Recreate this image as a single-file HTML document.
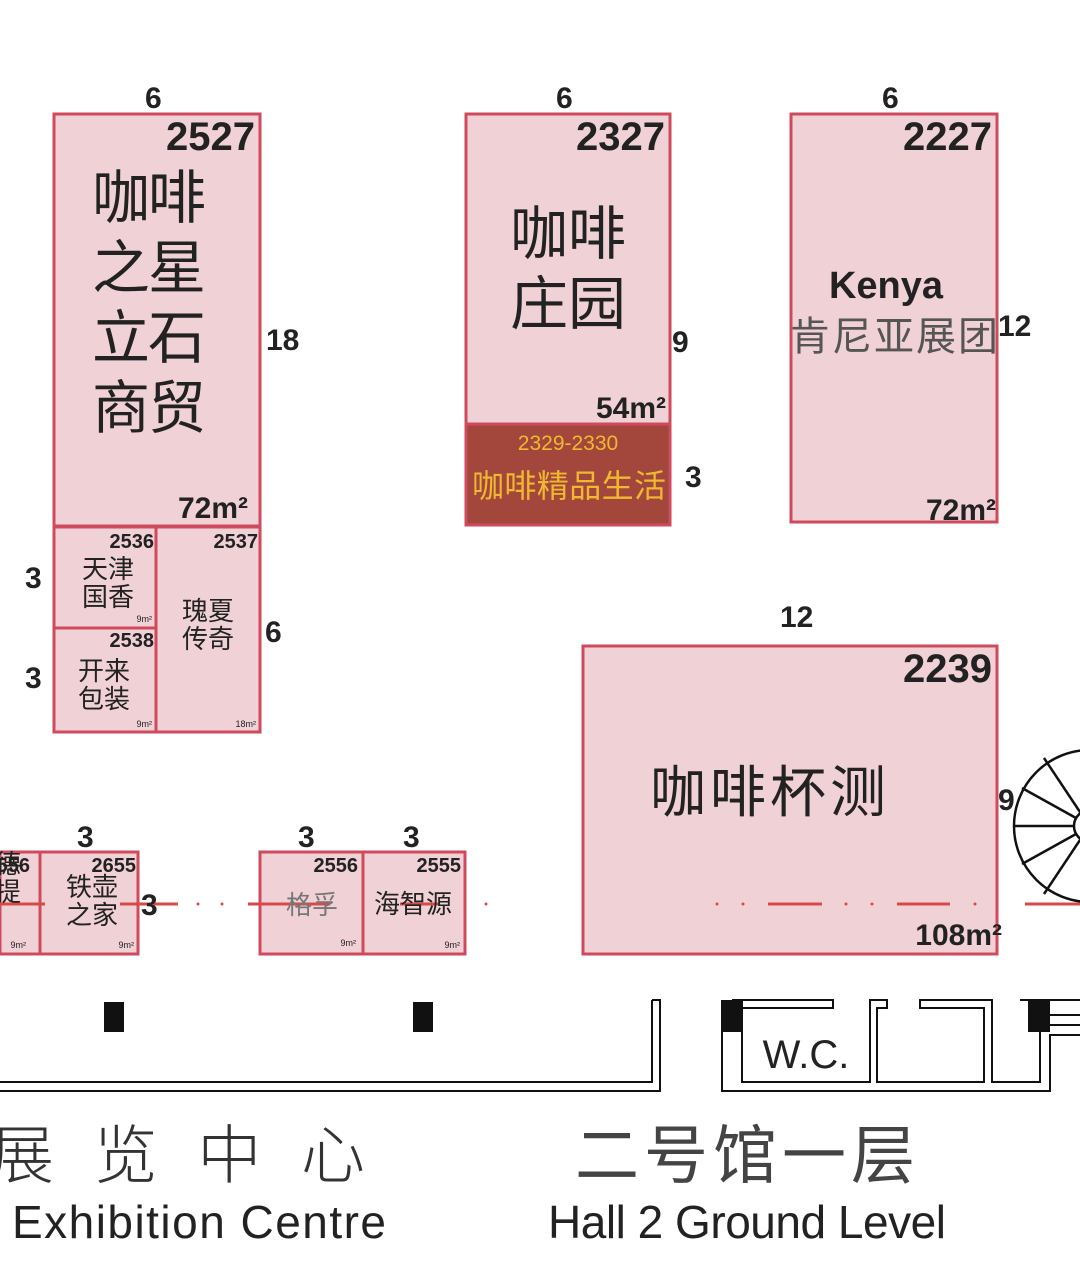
<!DOCTYPE html>
<html><head><meta charset="utf-8"><style>
html,body{margin:0;padding:0;background:#fff;}
svg{display:block;}
text{font-family:"Liberation Sans","Noto Sans CJK SC",sans-serif;fill:#222;}
.b{font-weight:bold;}
</style></head><body>
<svg width="1080" height="1276" viewBox="0 0 1080 1276" xmlns="http://www.w3.org/2000/svg">
<g fill="#f0d1d6" stroke="#d04a5e" stroke-width="3">
<rect x="54" y="114" width="206" height="412"/>
<rect x="54" y="527" width="102" height="101"/>
<rect x="54" y="628" width="102" height="104"/>
<rect x="156" y="527" width="104" height="205"/>
<rect x="466" y="114" width="204" height="310"/>
<rect x="791" y="114" width="206" height="408"/>
<rect x="583" y="646" width="414" height="308"/>
<rect x="0" y="852" width="40" height="102"/>
<rect x="40" y="852" width="98" height="102"/>
<rect x="260" y="852" width="103" height="102"/>
<rect x="363" y="852" width="102" height="102"/>
</g>
<rect x="466" y="424" width="204" height="101" fill="#a3473c" stroke="#d04a5e" stroke-width="3"/>
<g stroke="#d84a4a" stroke-width="3">
<line x1="0" y1="904" x2="45" y2="904"/><line x1="120" y1="904" x2="178" y2="904"/>
<line x1="248" y1="904" x2="330" y2="904"/><line x1="400" y1="904" x2="440" y2="904"/>
<line x1="768" y1="904" x2="822" y2="904"/><line x1="897" y1="904" x2="950" y2="904"/><line x1="1025" y1="904" x2="1080" y2="904"/>
</g>
<g fill="#d84a4a"><circle cx="198" cy="904" r="1.5"/><circle cx="222" cy="904" r="1.5"/><circle cx="486" cy="904" r="1.5"/><circle cx="717" cy="904" r="1.5"/><circle cx="743" cy="904" r="1.5"/><circle cx="846" cy="904" r="1.5"/><circle cx="872" cy="904" r="1.5"/><circle cx="975" cy="904" r="1.5"/></g>
<g class="b" font-size="40" text-anchor="end">
<text x="255" y="150" class="b">2527</text><text x="665" y="150" class="b">2327</text><text x="992" y="150" class="b">2227</text><text x="992" y="682" class="b">2239</text>
</g>
<g font-size="30" class="b">
<text x="145" y="108" class="b">6</text><text x="556" y="108" class="b">6</text><text x="882" y="108" class="b">6</text>
<text x="266" y="350" class="b">18</text><text x="672" y="352" class="b">9</text><text x="998" y="336" class="b">12</text>
<text x="685" y="487" class="b">3</text><text x="25" y="588" class="b">3</text><text x="25" y="688" class="b">3</text><text x="265" y="642" class="b">6</text>
<text x="780" y="627" class="b">12</text><text x="998" y="810" class="b">9</text>
<text x="77" y="847" class="b">3</text><text x="298" y="847" class="b">3</text><text x="403" y="847" class="b">3</text><text x="141" y="915" class="b">3</text>
</g>
<g font-size="30" class="b" text-anchor="end">
<text x="248" y="518" class="b">72m²</text><text x="666" y="418" class="b">54m²</text><text x="996" y="520" class="b">72m²</text><text x="1002" y="945" class="b">108m²</text>
</g>
<g font-size="20" class="b" text-anchor="end">
<text x="154" y="548" class="b">2536</text><text x="258" y="548" class="b">2537</text><text x="154" y="647" class="b">2538</text>
<text x="136" y="872" class="b">2655</text><text x="30" y="872" class="b">556</text><text x="358" y="872" class="b">2556</text><text x="461" y="872" class="b">2555</text>
</g>
<g font-size="9" text-anchor="end">
<text x="152" y="622">9m²</text><text x="152" y="727">9m²</text><text x="256" y="727">18m²</text>
<text x="26" y="948">9m²</text><text x="134" y="948">9m²</text><text x="356" y="946">9m²</text><text x="460" y="948">9m²</text>
</g>
<g font-size="58">
<text x="92" y="218" textLength="114">咖啡</text><text x="92" y="288" textLength="114">之星</text><text x="92" y="358" textLength="114">立石</text><text x="92" y="428" textLength="114">商贸</text>
<text x="510" y="254" textLength="116">咖啡</text><text x="510" y="324" textLength="116">庄园</text>
</g>
<text x="650" y="812" font-size="56" textLength="236">咖啡杯测</text>
<text x="886" y="298" font-size="38" text-anchor="middle" class="b">Kenya</text>
<text x="790" y="350" font-size="40" textLength="208" style="fill:#555">肯尼亚展团</text>
<text x="568" y="450" font-size="21" text-anchor="middle" style="fill:#f0b830">2329-2330</text>
<text x="472" y="497" font-size="32" textLength="194" style="fill:#f0b830">咖啡精品生活</text>
<g font-size="26" text-anchor="middle">
<text x="108" y="578">天津</text><text x="108" y="606">国香</text>
<text x="104" y="680">开来</text><text x="104" y="708">包装</text>
<text x="208" y="620">瑰夏</text><text x="208" y="648">传奇</text>
<text x="92" y="896">铁壶</text><text x="92" y="924">之家</text>
<text x="312" y="914" style="fill:#777">格孚</text><text x="413" y="913">海智源</text>
<text x="8" y="873">德</text><text x="8" y="901">提</text>
</g>
<g fill="none" stroke="#111" stroke-width="2.5">
<circle cx="1090" cy="826" r="76"/><circle cx="1090" cy="826" r="16"/>
<line x1="1014" y1="826" x2="1074" y2="826"/><line x1="1022" y1="788" x2="1076" y2="818"/><line x1="1044" y1="758" x2="1080" y2="812"/>
<line x1="1022" y1="864" x2="1076" y2="834"/><line x1="1044" y1="894" x2="1080" y2="840"/>
</g>
<g fill="#111"><rect x="104" y="1002" width="20" height="30"/><rect x="413" y="1002" width="20" height="30"/><rect x="721" y="1000" width="22" height="32"/><rect x="1028" y="1000" width="22" height="32"/></g>
<g fill="none" stroke="#111" stroke-width="2">
<polyline points="0,1082 652,1082 652,1000"/><polyline points="0,1091 660,1091 660,1000 652,1000"/>
<polyline points="732,1000 833,1000 833,1008 742,1008 742,1082 870,1082 870,1000 887,1000 887,1008 877,1008 877,1082 984,1082 984,1008 920,1008 920,1000 992,1000 992,1082 1040,1082 1040,1000"/>
<polyline points="722,1000 722,1091 1050,1091 1050,1035 1080,1035"/>
<polyline points="1020,1000 1080,1000"/><line x1="1050" y1="1015" x2="1080" y2="1015"/><line x1="1050" y1="1025" x2="1080" y2="1025"/>
</g>
<text x="806" y="1068" font-size="40" text-anchor="middle">W.C.</text>
<text x="-10" y="1178" font-size="64" style="fill:#333;font-weight:300" textLength="375">展览中心</text>
<text x="575" y="1178" font-size="64" style="fill:#444" textLength="340">二号馆一层</text>
<text x="12" y="1238" font-size="46" textLength="374">Exhibition Centre</text>
<text x="548" y="1238" font-size="46" textLength="398">Hall 2 Ground Level</text>
</svg>
</body></html>
